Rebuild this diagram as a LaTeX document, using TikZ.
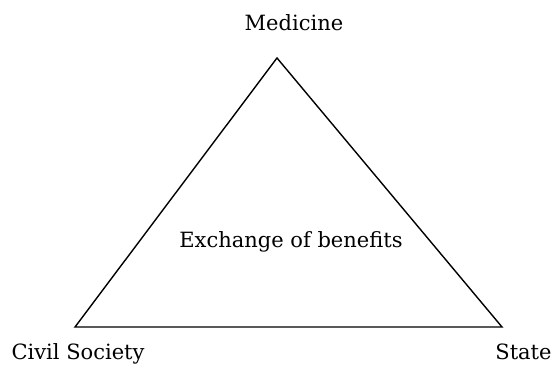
\documentclass[tikz,border=0pt]{standalone}
\usepackage{fontspec}
\setmainfont{DejaVu Serif}
\begin{document}
\begin{tikzpicture}[x=1pt,y=1pt,
  lbl/.style={font=\fontsize{21}{25}\selectfont, inner sep=0pt, anchor=base},
  edge/.style={draw=black, line width=1.4pt, line join=miter}]
\useasboundingbox (0,0) rectangle (554,364);
\coordinate (top) at (277,306);
\coordinate (bl) at (75,37);
\coordinate (br) at (502,37);
\draw[edge] (top) -- (br) -- (bl) -- cycle;
\node[lbl] (med) at (294,333) {Medicine};
\node[lbl] (civ) at (78,5) {Civil Society};
\node[lbl] (sta) at (523.5,5) {State};
\node[lbl] (exc) at (291,116) {Exchange of benefits};
\end{tikzpicture}
\end{document}
